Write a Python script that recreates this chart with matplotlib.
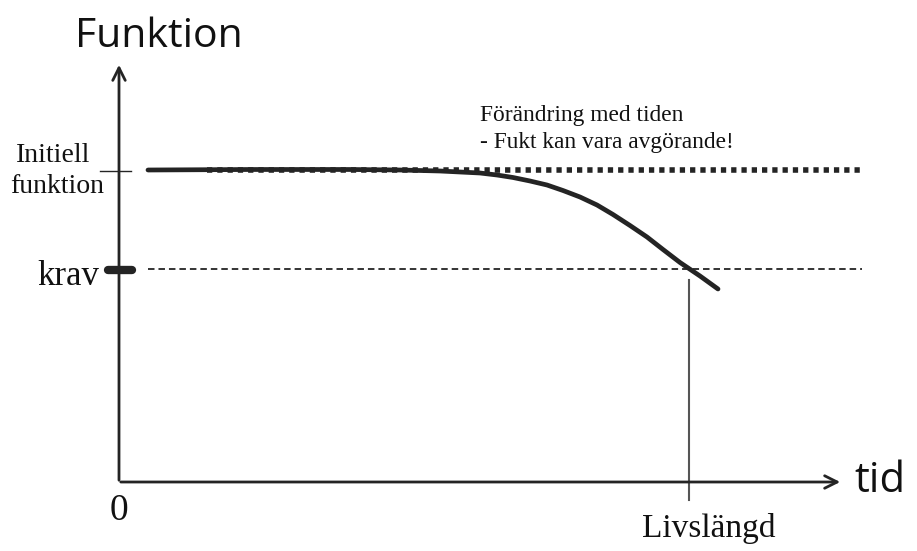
import matplotlib
matplotlib.use("Agg")
import matplotlib.pyplot as plt

# ---- data (in the chart's own drawing units: x = time, y = function, pixel-like scale) ----
curve_t = [148, 250, 350, 400, 440, 480, 497, 513, 530, 547, 563, 580, 597, 613,
           630, 647, 663, 680, 700, 718]
curve_f = [170, 169.5, 169.5, 170, 171, 173, 175, 177.5, 181, 185, 190.5, 197, 205, 214.5,
           225.5, 237, 249.5, 262.5, 276, 289]

initial_level = 169.5
initial_start, initial_end = 207, 860
krav_level = 269
krav_start, krav_end = 148, 862
lifetime_t = 689

axis_origin = (119, 482)
x_axis_end = 843
y_axis_end = 62

y_labels = ["Initiell", "funktion", "krav"]
x_labels = ["0", "Livslängd"]
title_y = "Funktion"
title_x = "tid"
note = ["Förändring med tiden", "- Fukt kan vara avgörande!"]

ink = "#242424"

fig = plt.figure(figsize=(9.17, 5.51), dpi=100)
ax = fig.add_axes([0, 0, 1, 1])
ax.set_xlim(0, 917)
ax.set_ylim(551, 0)
ax.axis("off")

serif = ["Liberation Serif", "DejaVu Serif"]
sans = ["Open Sans", "DejaVu Sans"]

# axes with arrows
ox, oy = axis_origin
ax.annotate("", xy=(x_axis_end, oy), xytext=(ox - 1, oy),
            arrowprops=dict(arrowstyle="->,head_length=0.9,head_width=0.45", lw=2, color=ink))
ax.annotate("", xy=(ox, y_axis_end), xytext=(ox, oy + 1),
            arrowprops=dict(arrowstyle="->,head_length=0.9,head_width=0.45", lw=2, color=ink))

# initial level dotted line
ax.plot([initial_start, initial_end], [initial_level, initial_level], color=ink,
        lw=4.0, linestyle=(0, (0.95, 0.9)), dash_capstyle="butt")
# krav dashed line
ax.plot([krav_start, krav_end], [krav_level, krav_level], color=ink,
        lw=1.3, linestyle=(0, (3.6, 2.2)))
# curve
ax.plot(curve_t, curve_f, color=ink, lw=3.4, solid_capstyle="round", solid_joinstyle="round")
# lifetime vertical line
ax.plot([lifetime_t, lifetime_t], [280, 500], color="#555555", lw=1.5)

# tick for initial function
ax.plot([100, 131], [171, 171], color=ink, lw=1.0)
# krav marker
ax.plot([108, 132], [krav_level + 1, krav_level + 1], color=ink, lw=6, solid_capstyle="round")

# texts
tc = "#111111"
ax.text(159, 47, title_y, fontsize=29.5, family=sans, ha="center", va="baseline", color=tc)
ax.text(854, 492, title_x, fontsize=30, family=sans, ha="left", va="baseline", color=tc)
ax.text(53, 162, y_labels[0], fontsize=20, family=serif, ha="center", va="baseline", color=tc)
ax.text(57, 193, y_labels[1], fontsize=20, family=serif, ha="center", va="baseline", color=tc)
ax.text(68, 285, y_labels[2], fontsize=25, family=serif, ha="center", va="baseline", color=tc)
ax.text(119, 520, x_labels[0], fontsize=27, family=serif, ha="center", va="baseline", color=tc)
ax.text(709, 537, x_labels[1], fontsize=24, family=serif, ha="center", va="baseline", color=tc)
ax.text(480, 121, note[0], fontsize=16.8, family=serif, ha="left", va="baseline", color=tc)
ax.text(480, 148, note[1], fontsize=16.8, family=serif, ha="left", va="baseline", color=tc)

fig.savefig("out.png", dpi=100)
